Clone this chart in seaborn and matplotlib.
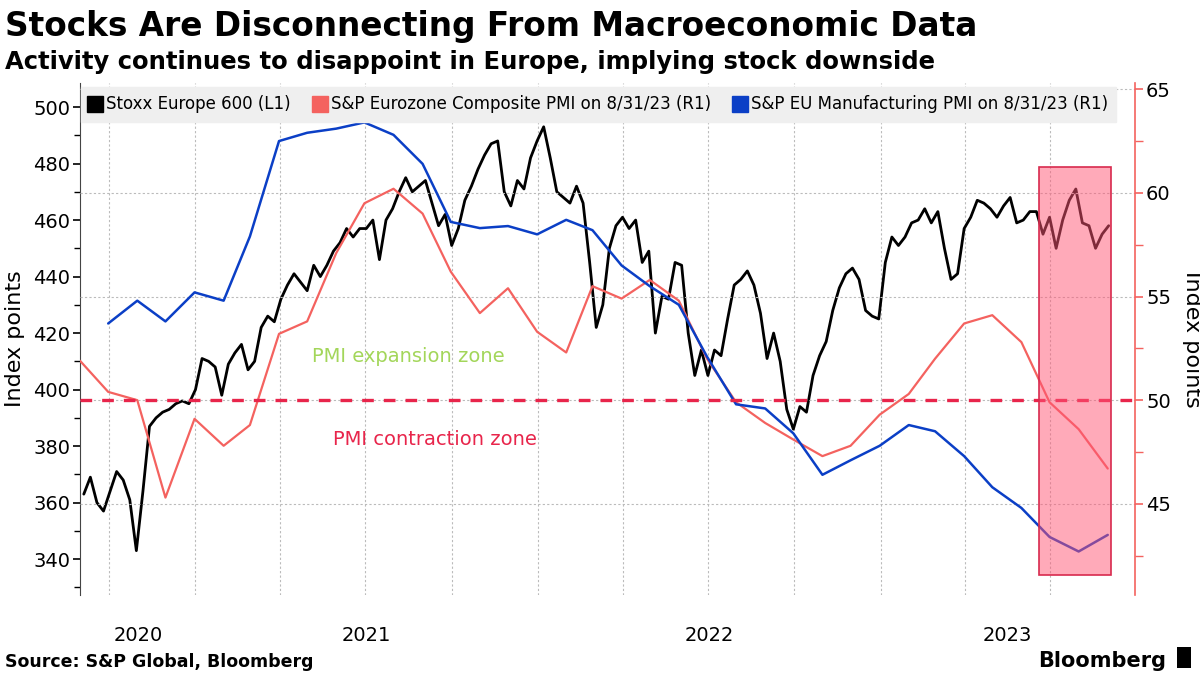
import pandas as pd
import matplotlib
matplotlib.use('Agg')
import matplotlib.pyplot as plt
import matplotlib.dates as mdates
from matplotlib.lines import Line2D
from matplotlib.patches import Rectangle
import seaborn as sns

# Stoxx Europe 600, weekly readings (Fridays from 2020-09-04)
stoxx_values = [
    363, 369, 360, 357, 364, 371, 368, 361, 343, 364,
    387, 390, 392, 393, 395, 396, 395, 400, 411, 410,
    408, 398, 409, 413, 416, 407, 410, 422, 426, 424,
    432, 437, 441, 438, 435, 444, 440, 444, 449, 452,
    457, 454, 457, 457, 460, 446, 460, 464, 470, 475,
    470, 472, 474, 466, 458, 462, 451, 457, 467, 472,
    478, 483, 487, 488, 470, 465, 474, 471, 482, 488,
    493, 482, 470, 468, 466, 472, 466, 445, 422, 430,
    450, 458, 461, 457, 460, 445, 449, 420, 433, 432,
    445, 444, 420, 405, 414, 405, 414, 412, 425, 437,
    439, 442, 437, 427, 411, 420, 410, 393, 386, 394,
    392, 405, 412, 417, 428, 436, 441, 443, 439, 428,
    426, 425, 445, 454, 451, 454, 459, 460, 464, 459,
    463, 450, 439, 441, 457, 461, 467, 466, 464, 461,
    465, 468, 459, 460, 463, 463, 455, 461, 450, 460,
    467, 471, 459, 458, 450, 455, 458,
]
stoxx_dates = pd.date_range('2020-09-04', periods=len(stoxx_values), freq='W-FRI')

# S&P Eurozone Composite PMI, month end from Aug 2020
composite_pmi = [
    51.9, 50.4, 50.0, 45.3, 49.1, 47.8, 48.8, 53.2, 53.8, 57.1,
    59.5, 60.2, 59.0, 56.2, 54.2, 55.4, 53.3, 52.3, 55.5, 54.9,
    55.8, 54.8, 52.0, 49.9, 48.9, 48.1, 47.3, 47.8, 49.3, 50.3,
    52.0, 53.7, 54.1, 52.8, 49.9, 48.6, 46.7,
]
composite_dates = pd.date_range('2020-08-31', periods=len(composite_pmi), freq='ME')

# S&P EU Manufacturing PMI, month end from Sep 2020
manufacturing_pmi = [
    53.7, 54.8, 53.8, 55.2, 54.8, 57.9, 62.5, 62.9, 63.1, 63.4,
    62.8, 61.4, 58.6, 58.3, 58.4, 58.0, 58.7, 58.2, 56.5, 55.5,
    54.6, 52.1, 49.8, 49.6, 48.4, 46.4, 47.1, 47.8, 48.8, 48.5,
    47.3, 45.8, 44.8, 43.4, 42.7, 43.5,
]
manufacturing_dates = pd.date_range('2020-09-30', periods=len(manufacturing_pmi), freq='ME')

year_labels = ['2020', '2021', '2022', '2023']
legend_labels = ['Stoxx Europe 600 (L1)',
                 'S&P Eurozone Composite PMI on 8/31/23 (R1)',
                 'S&P EU Manufacturing PMI on 8/31/23 (R1)']

BLACK = '#000000'
RED = '#f4625f'
BLUE = '#0b3fc6'
CRIMSON = '#e8254b'
GREEN = '#a3d65a'

sns.set_style('white')
plt.rcParams['font.family'] = ['DejaVu Sans']
plt.rcParams['text.color'] = 'black'
plt.rcParams['axes.labelcolor'] = 'black'
plt.rcParams['xtick.color'] = 'black'
plt.rcParams['ytick.color'] = 'black'

fig = plt.figure(figsize=(12, 6.75), dpi=100)
ax = fig.add_axes([0.0667, 0.1185, 0.8791, 0.7585])
ax2 = ax.twinx()

x_start = pd.Timestamp('2020-08-31')
x_end = pd.Timestamp('2023-09-29')

stoxx_df = pd.DataFrame({'date': stoxx_dates, 'value': stoxx_values})
comp_df = pd.DataFrame({'date': composite_dates, 'value': composite_pmi})
manu_df = pd.DataFrame({'date': manufacturing_dates, 'value': manufacturing_pmi})

sns.lineplot(data=stoxx_df, x='date', y='value', ax=ax, color=BLACK, lw=2.0)
sns.lineplot(data=comp_df, x='date', y='value', ax=ax2, color=RED, lw=1.6)
sns.lineplot(data=manu_df, x='date', y='value', ax=ax2, color=BLUE, lw=1.8)

ax.set_xlim(x_start, x_end)
ax.set_ylim(327.3, 508.5)
ax2.set_ylim(40.6, 65.3)

# left axis
ax.set_yticks(range(340, 501, 20))
ax.set_yticks(range(330, 501, 10), minor=True)
ax.tick_params(axis='y', which='major', length=5, width=1.2, labelsize=14, colors='black', pad=2)
ax.tick_params(axis='y', which='minor', length=4, width=1.0, colors='black')
ax.set_ylabel('Index points', fontsize=16, labelpad=6)

# right axis
ax2.set_yticks([45, 50, 55, 60, 65])
ax2.set_yticks([42.5, 47.5, 52.5, 57.5, 62.5], minor=True)
ax2.tick_params(axis='y', which='major', length=6, width=1.2, colors=RED, labelcolor='black', labelsize=14, pad=2)
ax2.tick_params(axis='y', which='minor', length=6, width=1.0, colors=RED)
ax2.set_ylabel('Index points', fontsize=16, rotation=270, labelpad=22)

for a in (ax, ax2):
    a.set_xlabel('')
    a.spines['top'].set_visible(False)
    a.spines['bottom'].set_visible(False)
ax.spines['right'].set_visible(False)
ax.spines['left'].set_color('#444444')
ax2.spines['left'].set_visible(False)
ax2.spines['right'].set_color(RED)
ax2.spines['right'].set_linewidth(1.2)

# x axis: quarter gridlines, year labels centred in each year span
ax.xaxis.set_major_locator(mdates.MonthLocator(bymonth=[1, 4, 7, 10]))
ax.xaxis.set_major_formatter(plt.NullFormatter())
bounds = [x_start] + [pd.Timestamp(f'{y}-01-01') for y in year_labels[1:]] + [x_end]
centres = [bounds[i] + (bounds[i + 1] - bounds[i]) / 2 for i in range(len(year_labels))]
ax.set_xticks(centres, minor=True)
ax.set_xticklabels(year_labels, minor=True)
ax.tick_params(axis='x', which='both', length=0, labelsize=14, pad=22)
ax.grid(axis='x', which='major', linestyle=(0, (2, 2)), color='#bbbbbb', lw=0.8)
ax.grid(axis='y', visible=False)
ax2.grid(axis='y', which='major', linestyle=(0, (2, 2)), color='#bbbbbb', lw=0.8)
ax2.grid(axis='x', visible=False)

# 50 line and zone labels
ax2.axhline(50, color=CRIMSON, lw=2.4, linestyle=(0, (3.5, 3)))
ax2.text(pd.Timestamp('2021-05-05'), 52.1, 'PMI expansion zone', color=GREEN, fontsize=14, va='center')
ax2.text(pd.Timestamp('2021-05-28'), 48.1, 'PMI contraction zone', color=CRIMSON, fontsize=14, va='center')

# highlighted recent window
hl_x0 = mdates.date2num(pd.Timestamp('2023-06-19'))
hl_x1 = mdates.date2num(pd.Timestamp('2023-09-03'))
ax2.add_patch(Rectangle((hl_x0, 41.55), hl_x1 - hl_x0, 61.25 - 41.55,
                        facecolor='#ff5675', alpha=0.5, edgecolor='none', zorder=6))
ax2.add_patch(Rectangle((hl_x0, 41.55), hl_x1 - hl_x0, 61.25 - 41.55,
                        facecolor='none', edgecolor='#d82a4e', lw=1.2, zorder=7))

# legend
handles = [Line2D([], [], marker='s', linestyle='none', markersize=11, color=c)
           for c in (BLACK, RED, BLUE)]
leg = ax2.legend(handles, legend_labels, loc='upper left', bbox_to_anchor=(0.001, 0.992),
                 ncol=3, frameon=True, fancybox=False, facecolor='#efefef', edgecolor='#efefef',
                 fontsize=12, handlelength=0.7, handletextpad=0.3, columnspacing=1.4,
                 borderpad=0.5, borderaxespad=0.0)
leg.get_frame().set_alpha(1)
leg.set_zorder(10)

# titles and footer
fig.text(0.004, 0.985, 'Stocks Are Disconnecting From Macroeconomic Data',
         fontsize=23.6, fontweight='bold', va='top', ha='left')
fig.text(0.004, 0.926, 'Activity continues to disappoint in Europe, implying stock downside',
         fontsize=17.5, fontweight='bold', va='top', ha='left')
fig.text(0.004, 0.006, 'Source: S&P Global, Bloomberg', fontsize=12.5, fontweight='bold',
         va='bottom', ha='left')
fig.text(0.972, 0.006, 'Bloomberg', fontsize=15, fontweight='bold', va='bottom', ha='right')
fig.patches.append(Rectangle((0.9805, 0.011), 0.012, 0.03, transform=fig.transFigure,
                             facecolor='black', edgecolor='none'))

fig.savefig('out.png', dpi=100)
